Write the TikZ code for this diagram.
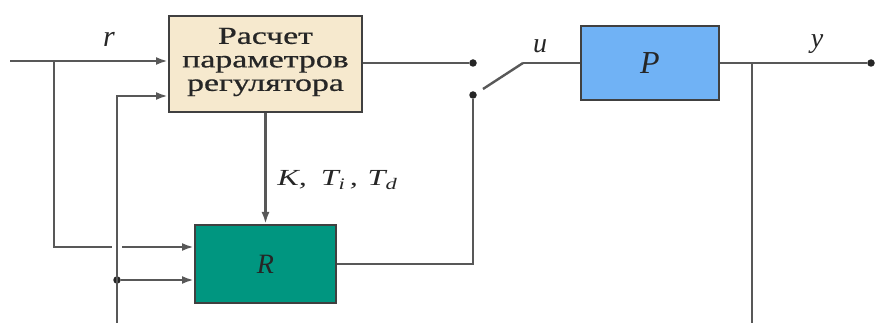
\documentclass[tikz,border=0pt]{standalone}
\usepackage{fontspec}
\setmainfont{Liberation Serif}
\newfontfamily\calcfont[FakeBold=0.6]{Liberation Serif}
\usetikzlibrary{arrows.meta}
\definecolor{wire}{RGB}{88,88,88}
\definecolor{calcfill}{RGB}{246,233,206}
\definecolor{regfill}{RGB}{0,150,128}
\definecolor{plantfill}{RGB}{112,178,245}
\begin{document}
\begin{tikzpicture}[x=1pt,y=-1pt,
  wireline/.style={draw=wire,line width=2.4pt},
  sig/.style={wireline,-{Latex[length=12pt,width=8pt]}},
  blockbox/.style={draw=black!75,line width=2pt,inner sep=0pt,anchor=north west},
  junc/.style={circle,fill=black!85,inner sep=0pt,minimum size=7.5pt},
  lbl/.style={font=\itshape\fontsize{28}{28}\selectfont,inner sep=0pt,text=black!85}]
\useasboundingbox (0,0) rectangle (876,323);

% blocks
\node[blockbox,fill=calcfill,minimum width=193pt,minimum height=96pt] (calc) at (168,15) {};
\node[font=\calcfont\fontsize{24.5}{23.5}\selectfont,align=center,inner sep=0pt,xscale=1.38,text=black!85] (calctxt) at ([yshift=2pt]calc.center) {Расчет\\параметров\\регулятора};
\node[blockbox,fill=regfill,minimum width=141pt,minimum height=78pt] (reg) at (194,224) {};
\node[lbl] (regtxt) at (reg.center) {R};
\node[blockbox,fill=plantfill,minimum width=138pt,minimum height=74pt] (plant) at (580,25) {};
\node[lbl,font=\itshape\fontsize{32}{32}\selectfont] (planttxt) at (plant.center) {P};

% points on the wires
\coordinate (rin) at (10,61);
\coordinate (rsplit) at (54,61);
\coordinate (fbbot) at (117,323);
\coordinate (fbtop) at (117,96);
\coordinate (outsplit) at (752,63);
\coordinate (outbot) at (752,323);
\node[junc] (fbdot) at (117,280) {};
\node[junc] (swtop) at (473,63) {};
\node[junc] (swbot) at (473,95) {};
\coordinate (bladeA) at (483,89);
\coordinate (bladeB) at (523,63);
\node[junc] (yout) at (871,63) {};

% reference input
\draw[sig] (rin) -- (calc.west |- rin);
\draw[wireline] (rsplit) -- (54,247) -- (112,247);
\draw[sig] (122,247) -- (reg.west |- 0,247);
% feedback
\draw[sig] (fbbot) -- (fbtop) -- (calc.west |- fbtop);
\draw[sig] (fbdot) -- (reg.west |- fbdot);
% parameters to the controller
\draw[sig] (calc.south) -- (reg.north -| calc.south);
\node[lbl,font=\itshape\fontsize{23}{23}\selectfont,xscale=1.4,anchor=south west] (params) at (277,190)
  {K,\hspace{10pt}T\textsubscript{\itshape i}\hspace{3pt},\hspace{7pt}T\textsubscript{\itshape d}};
% switch
\draw[wireline] (calc.east |- swtop) -- (swtop);
\draw[wireline] (reg.east |- 0,264) -- (473,264) -- (swbot);
\draw[wireline] (bladeA) -- (bladeB);
\draw[wireline] (bladeB) -- (plant.west |- bladeB);
% plant output
\draw[wireline] (plant.east |- yout) -- (yout);
\draw[wireline] (outsplit) -- (outbot);

% signal names
\node[lbl,font=\itshape\fontsize{30}{30}\selectfont,anchor=base] (rname) at (109,47) {r};
\node[lbl,anchor=base] (uname) at (540,53) {u};
\node[lbl,anchor=base] (yname) at (817,48) {y};
\end{tikzpicture}
\end{document}
